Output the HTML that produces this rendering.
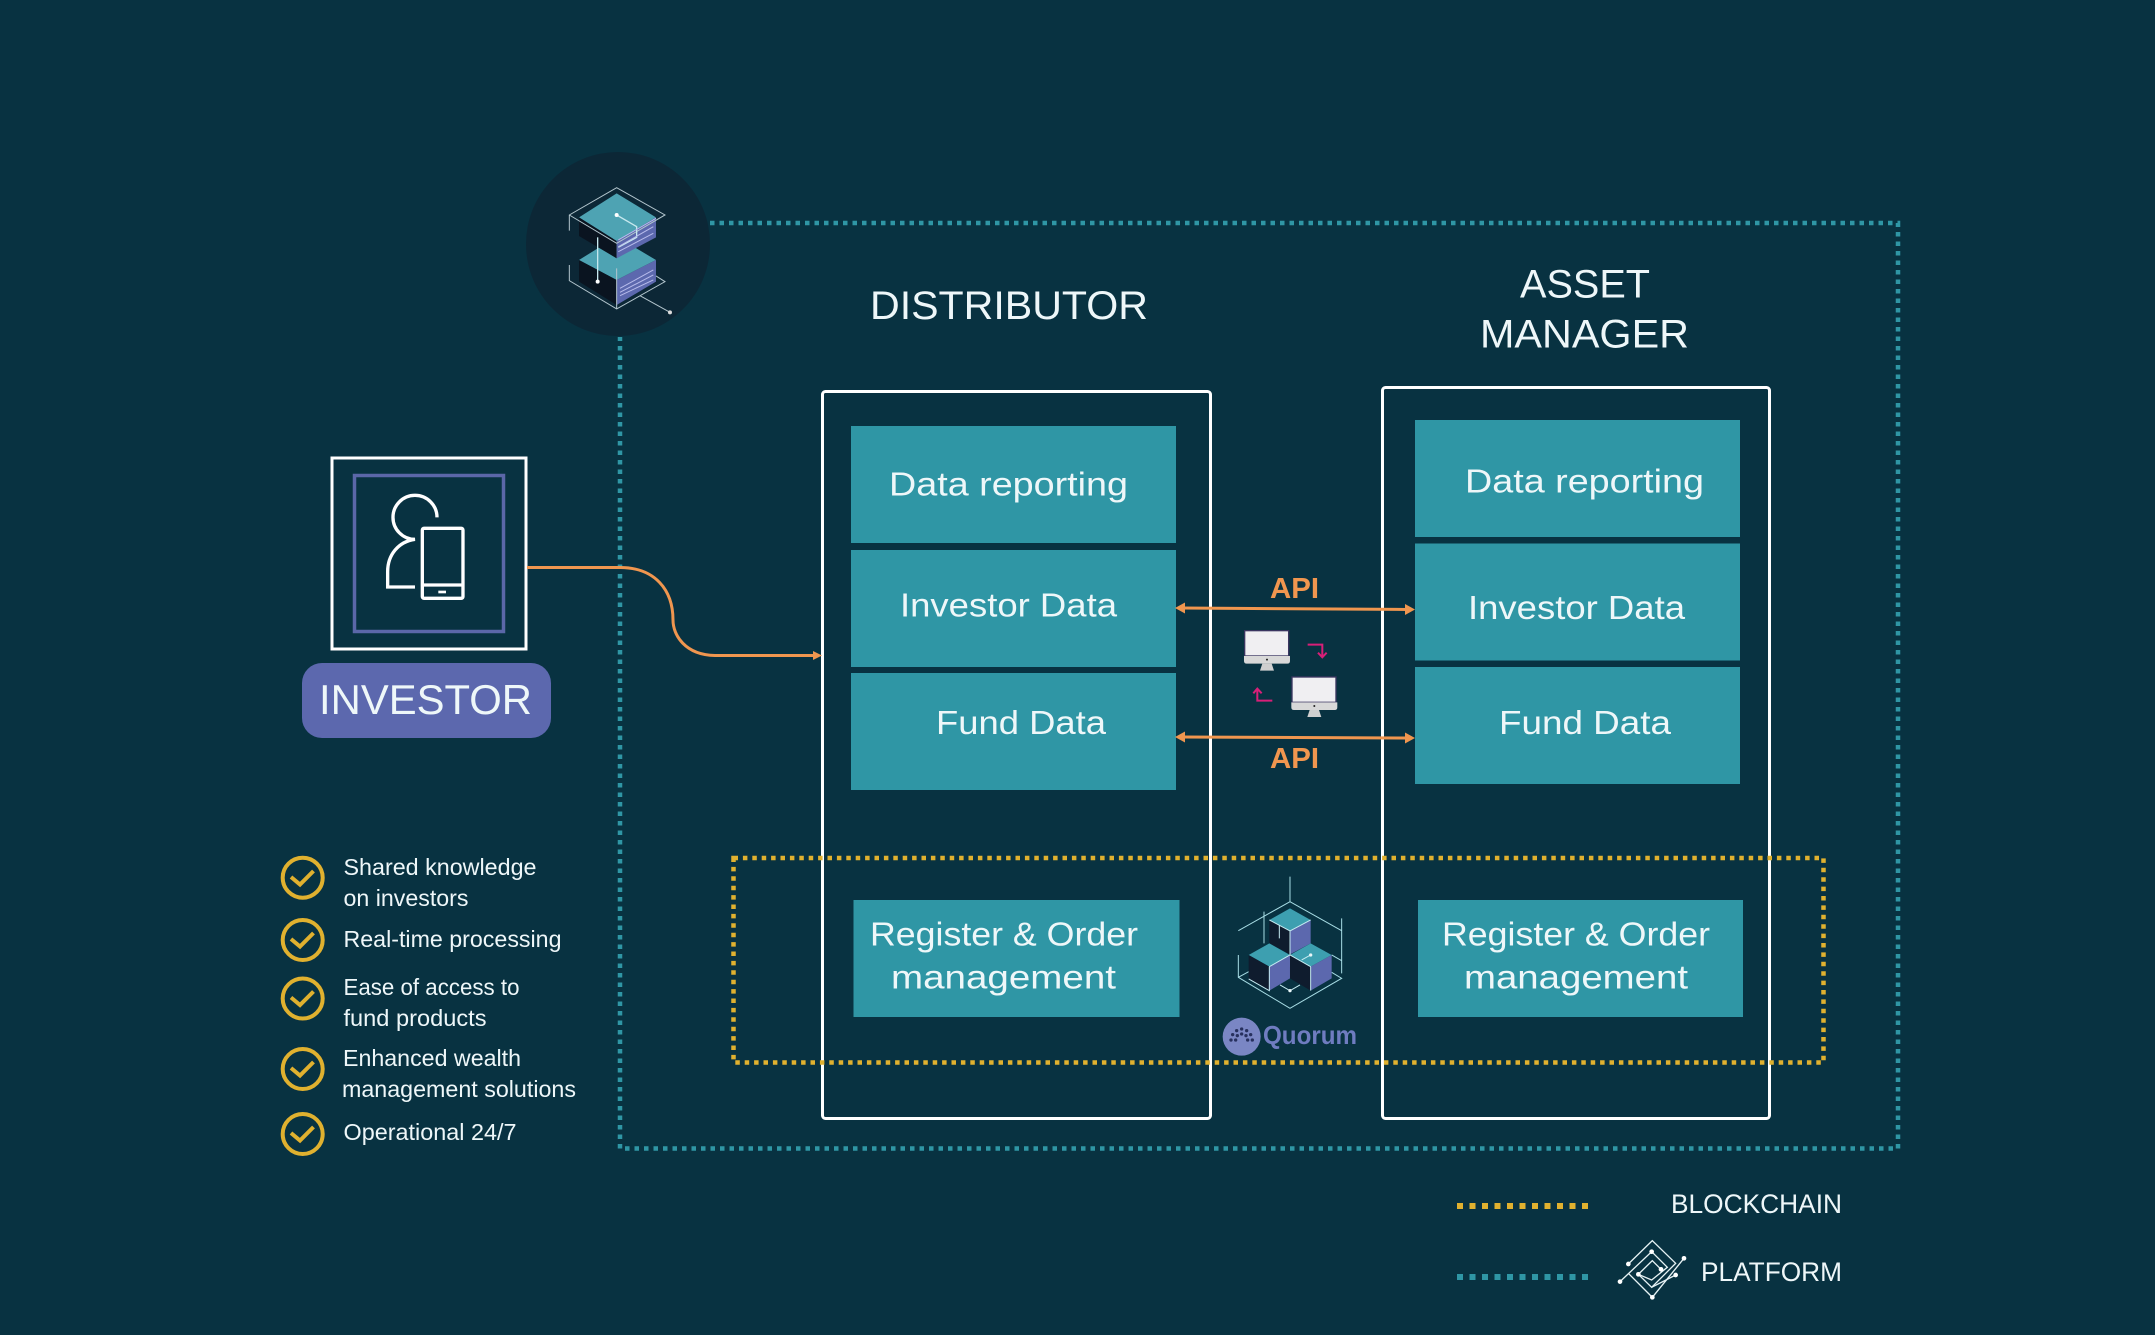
<!DOCTYPE html>
<html><head><meta charset="utf-8"><style>
html,body{margin:0;padding:0;background:#083241;width:2155px;height:1335px;overflow:hidden}
svg{display:block}
text{font-family:"Liberation Sans",sans-serif;fill:#eef7f9}
</style></head><body>
<svg width="2155" height="1335" viewBox="0 0 2155 1335" xmlns="http://www.w3.org/2000/svg">
<rect width="2155" height="1335" fill="#083241"/>
<!-- platform dotted -->
<path d="M710 223H1898V1148.500H620V337" fill="none" stroke="#2f96a5" stroke-width="4.5" stroke-dasharray="4.5 5"/>
<!-- top logo -->
<circle cx="618" cy="244" r="92" fill="#0c2736"/>
<g transform="translate(500,130) scale(.3333)">
<polygon points="350,320 468,390 350,450 237,390" fill="#4ea3b3"/>
<polygon points="237,390 350,450 350,525 237,455" fill="#0a1420"/>
<polygon points="350,450 468,390 468,455 350,525" fill="#5c68ae"/>
<polygon points="350,190 468,262 350,333 237,262" fill="#4ea3b3"/>
<polygon points="237,262 350,333 350,385 237,318" fill="#0a1420"/>
<polygon points="350,333 468,262 468,322 350,385" fill="#5c68ae"/>
<g fill="none" stroke="#b4c6ce" stroke-width="3">
<path d="M208 302V255L350 173 495 255 350 340 208 255"/>
<path d="M208 405V452L350 537 495 455 468 438M420 497 510 547M350 537V415"/>
</g>
<g fill="none" stroke="#c6e8ee" stroke-width="4">
<path d="M350 255 410 290V322L355 352"/>
<path d="M293 455V322"/>
</g>
<circle cx="350" cy="255" r="6" fill="#fff"/><circle cx="293" cy="455" r="6" fill="#fff"/><circle cx="510" cy="547" r="6" fill="#ddd"/>
<g stroke="#b8bcec" stroke-width="3">
<path d="M355 330 468 265M355 350 460 290M355 365 460 310M360 475 460 420M360 487 460 435M360 497 460 450"/>
</g>
</g>
<!-- investor -->
<rect x="332" y="458" width="194" height="191" fill="none" stroke="#fff" stroke-width="3"/>
<rect x="354.500" y="475.500" width="149" height="156" fill="none" stroke="#5b67a8" stroke-width="3.500"/>
<g transform="translate(280,440) scale(.3333)" fill="none" stroke="#fff" stroke-width="10">
<path d="M471 232A66 66 0 1 0 405 298C355 305 323 345 323 395V441H405"/>
<rect x="427" y="265" width="122" height="210" rx="5"/>
<path d="M427 435H549"/>
<path d="M475 456H498" stroke-width="8"/>
</g>
<rect x="302" y="663" width="249" height="75" rx="20" fill="#5c68ae"/>
<text x="319" y="714" font-size="42" textLength="213" lengthAdjust="spacingAndGlyphs">INVESTOR</text>
<!-- headings -->
<text x="870" y="319" font-size="40" textLength="278" lengthAdjust="spacingAndGlyphs">DISTRIBUTOR</text>
<text x="1520" y="297.500" font-size="40" textLength="130" lengthAdjust="spacingAndGlyphs">ASSET</text>
<text x="1480" y="347.500" font-size="40" textLength="209" lengthAdjust="spacingAndGlyphs">MANAGER</text>
<!-- columns -->
<rect x="822.500" y="391.500" width="388" height="727" rx="3" fill="none" stroke="#fff" stroke-width="3"/>
<rect x="1382.500" y="387.500" width="387" height="731" rx="3" fill="none" stroke="#fff" stroke-width="3"/>
<g fill="#2f96a5">
<rect x="851" y="426" width="325" height="117"/>
<rect x="851" y="550" width="325" height="117"/>
<rect x="851" y="673" width="325" height="117"/>
<rect x="1415" y="420" width="325" height="117"/>
<rect x="1415" y="543.500" width="325" height="117"/>
<rect x="1415" y="667" width="325" height="117"/>
<rect x="853.500" y="900" width="326" height="117"/>
<rect x="1418" y="900" width="325" height="117"/>
</g>
<g font-size="33.500">
<text x="889" y="495.500" textLength="239" lengthAdjust="spacingAndGlyphs">Data reporting</text>
<text x="900" y="616.500" textLength="217" lengthAdjust="spacingAndGlyphs">Investor Data</text>
<text x="936" y="734" textLength="170" lengthAdjust="spacingAndGlyphs">Fund Data</text>
<text x="1465" y="492.500" textLength="239" lengthAdjust="spacingAndGlyphs">Data reporting</text>
<text x="1468" y="619" textLength="217" lengthAdjust="spacingAndGlyphs">Investor Data</text>
<text x="1499" y="734" textLength="172" lengthAdjust="spacingAndGlyphs">Fund Data</text>
<text x="870" y="945.500" textLength="268" lengthAdjust="spacingAndGlyphs">Register &amp; Order</text>
<text x="891" y="988.500" textLength="225" lengthAdjust="spacingAndGlyphs">management</text>
<text x="1442" y="945.500" textLength="268" lengthAdjust="spacingAndGlyphs">Register &amp; Order</text>
<text x="1464" y="988.500" textLength="224" lengthAdjust="spacingAndGlyphs">management</text>
</g>
<!-- blockchain dotted -->
<rect x="733.500" y="858" width="1090" height="204.500" fill="none" stroke="#e0b12f" stroke-width="4.500" stroke-dasharray="4.500 4.900"/>
<!-- connectors -->
<g fill="none" stroke="#f0964f" stroke-width="3">
<path d="M527 567.500H620C655 567.500 673 590 673 620C673 635 685 655 715 655.500H818"/>
<path d="M1182 608L1408 609.500"/>
<path d="M1182 737L1408 738"/>
</g>
<g fill="#f0964f">
<polygon points="822,655.500 813,651 813,660"/>
<polygon points="1175,608 1185,602.500 1185,613.500"/>
<polygon points="1415,609.500 1405,604 1405,615"/>
<polygon points="1175,737 1185,731.500 1185,742.500"/>
<polygon points="1415,738 1405,732.500 1405,743.500"/>
</g>
<text x="1270" y="598" font-size="29" font-weight="bold" style="fill:#f0964f" textLength="49" lengthAdjust="spacingAndGlyphs">API</text>
<text x="1270" y="768" font-size="29" font-weight="bold" style="fill:#f0964f" textLength="49" lengthAdjust="spacingAndGlyphs">API</text>
<!-- monitors -->
<g transform="translate(1160,560) scale(.3333)">
<g>
<rect x="254" y="212" width="132" height="76" fill="#f0eff2" stroke="#3a3560" stroke-width="4"/>
<path d="M252 288H390V303Q390 311 382 311H260Q252 311 252 303Z" fill="#d8d8d8"/>
<polygon points="307,311 335,311 342,332 300,332" fill="#cfcfcf"/>
<circle cx="321" cy="299" r="3" fill="#222"/>
</g>
<g transform="translate(142,139)">
<rect x="254" y="212" width="132" height="76" fill="#f0eff2" stroke="#3a3560" stroke-width="4"/>
<path d="M252 288H390V303Q390 311 382 311H260Q252 311 252 303Z" fill="#d8d8d8"/>
<polygon points="307,311 335,311 342,332 300,332" fill="#cfcfcf"/>
<circle cx="321" cy="299" r="3" fill="#222"/>
</g>
<g fill="none" stroke="#d81f78" stroke-width="6">
<path d="M443 254H487V290M474 278L487 292 500 278"/>
<path d="M337 422H292V388M280 400L292 386 305 400"/>
</g>
</g>
<!-- quorum cubes -->
<g transform="translate(1200,860) scale(.3333)">
<g fill="none" stroke="#a8dde5" stroke-width="3">
<path d="M270 50V125M115 212 270 125 425 212M192 155V250M425 175V340M395 285 425 302M115 285V352L270 445 425 355 395 337M115 352 146 335"/>
</g>
<polygon points="270,145 332,180 270,213 208,180" fill="#3d9fb0"/>
<polygon points="208,180 270,213 270,283 208,250" fill="#0f1c2e"/>
<polygon points="270,213 332,180 332,250 270,283" fill="#5c68ae"/>
<polygon points="208,250 270,285 208,320 146,285" fill="#3d9fb0"/>
<polygon points="146,285 208,320 208,392 146,357" fill="#0f1c2e"/>
<polygon points="208,320 270,285 270,355 208,392" fill="#5c68ae"/>
<polygon points="332,250 395,285 332,320 270,285" fill="#3d9fb0"/>
<polygon points="270,285 332,320 332,392 270,355" fill="#0f1c2e"/>
<polygon points="332,320 395,285 395,355 332,392" fill="#5c68ae"/>
<g fill="none" stroke="#c6ecf2" stroke-width="3">
<path d="M208 180 270 213 332 180M270 213V285M208 320 270 285 332 320M146 357 208 392V320M332 320V392M240 375 270 392 300 375M238 195V235M305 300 332 285"/>
</g>
<circle cx="270" cy="392" r="5" fill="#e8f6f8"/><circle cx="332" cy="285" r="5" fill="#e8f6f8"/>
<circle cx="125" cy="530" r="57" fill="#7a86c4"/>
<g fill="#27305e">
<circle cx="125" cy="507" r="5"/><circle cx="110" cy="512" r="5"/><circle cx="140" cy="512" r="5"/>
<circle cx="125" cy="522" r="5"/><circle cx="98" cy="524" r="5"/><circle cx="152" cy="524" r="5"/><circle cx="112" cy="527" r="5"/><circle cx="138" cy="527" r="5"/>
<circle cx="93" cy="540" r="5"/><circle cx="107" cy="540" r="5"/><circle cx="143" cy="540" r="5"/><circle cx="157" cy="540" r="5"/>
</g>
</g>
<text x="1263" y="1044" font-size="26" font-weight="bold" style="fill:#6f7cc0" textLength="94" lengthAdjust="spacingAndGlyphs">Quorum</text>
<!-- checklist -->
<g fill="none" stroke="#e0b12f" stroke-width="4">
<circle cx="302.700" cy="877.700" r="20"/><circle cx="302.700" cy="940" r="20"/><circle cx="302.700" cy="998.500" r="20"/><circle cx="302.700" cy="1069" r="20"/><circle cx="302.700" cy="1134" r="20"/>
<path d="M291 877l9 7.500 13.500-13.500M291 939l9 7.500 13.500-13.500M291 997.500l9 7.500 13.500-13.500M291 1068l9 7.500 13.500-13.500M291 1133l9 7.500 13.500-13.500"/>
</g>
<g font-size="23">
<text x="343.500" y="875" textLength="193" lengthAdjust="spacingAndGlyphs">Shared knowledge</text>
<text x="343.500" y="906" textLength="125" lengthAdjust="spacingAndGlyphs">on investors</text>
<text x="343.500" y="947" textLength="218" lengthAdjust="spacingAndGlyphs">Real-time processing</text>
<text x="343.500" y="995" textLength="176" lengthAdjust="spacingAndGlyphs">Ease of access to</text>
<text x="343.500" y="1026" textLength="143" lengthAdjust="spacingAndGlyphs">fund products</text>
<text x="343" y="1066" textLength="178" lengthAdjust="spacingAndGlyphs">Enhanced wealth</text>
<text x="342" y="1097" textLength="234" lengthAdjust="spacingAndGlyphs">management solutions</text>
<text x="343.500" y="1140" textLength="173" lengthAdjust="spacingAndGlyphs">Operational 24/7</text>
</g>
<!-- legend -->
<path d="M1457 1206H1590" stroke="#e0b12f" stroke-width="6" stroke-dasharray="6 6.500"/>
<path d="M1457 1277H1590" stroke="#2f96a5" stroke-width="6" stroke-dasharray="6 6.500"/>
<text x="1671" y="1213" font-size="27" textLength="171" lengthAdjust="spacingAndGlyphs">BLOCKCHAIN</text>
<text x="1701" y="1281" font-size="27" textLength="141" lengthAdjust="spacingAndGlyphs">PLATFORM</text>
<g transform="translate(1610,1230) scale(.3333)">
<g fill="none" stroke="#e6f2f4" stroke-width="4">
<path d="M55 102 127 32 197 100 125 172 85 133"/>
<path d="M30 155 125 65 172 112 125 150 85 133 127 92 153 118"/>
<path d="M125 172 197 135"/>
<path d="M55 130 127 202 222 85"/>
</g>
<g fill="#fff">
<circle cx="55" cy="102" r="7"/><circle cx="30" cy="155" r="7"/><circle cx="125" cy="65" r="7"/><circle cx="153" cy="118" r="7"/><circle cx="85" cy="133" r="7"/><circle cx="197" cy="135" r="7"/><circle cx="127" cy="202" r="7"/><circle cx="222" cy="85" r="7"/>
</g>
</g>
</svg>
</body></html>
